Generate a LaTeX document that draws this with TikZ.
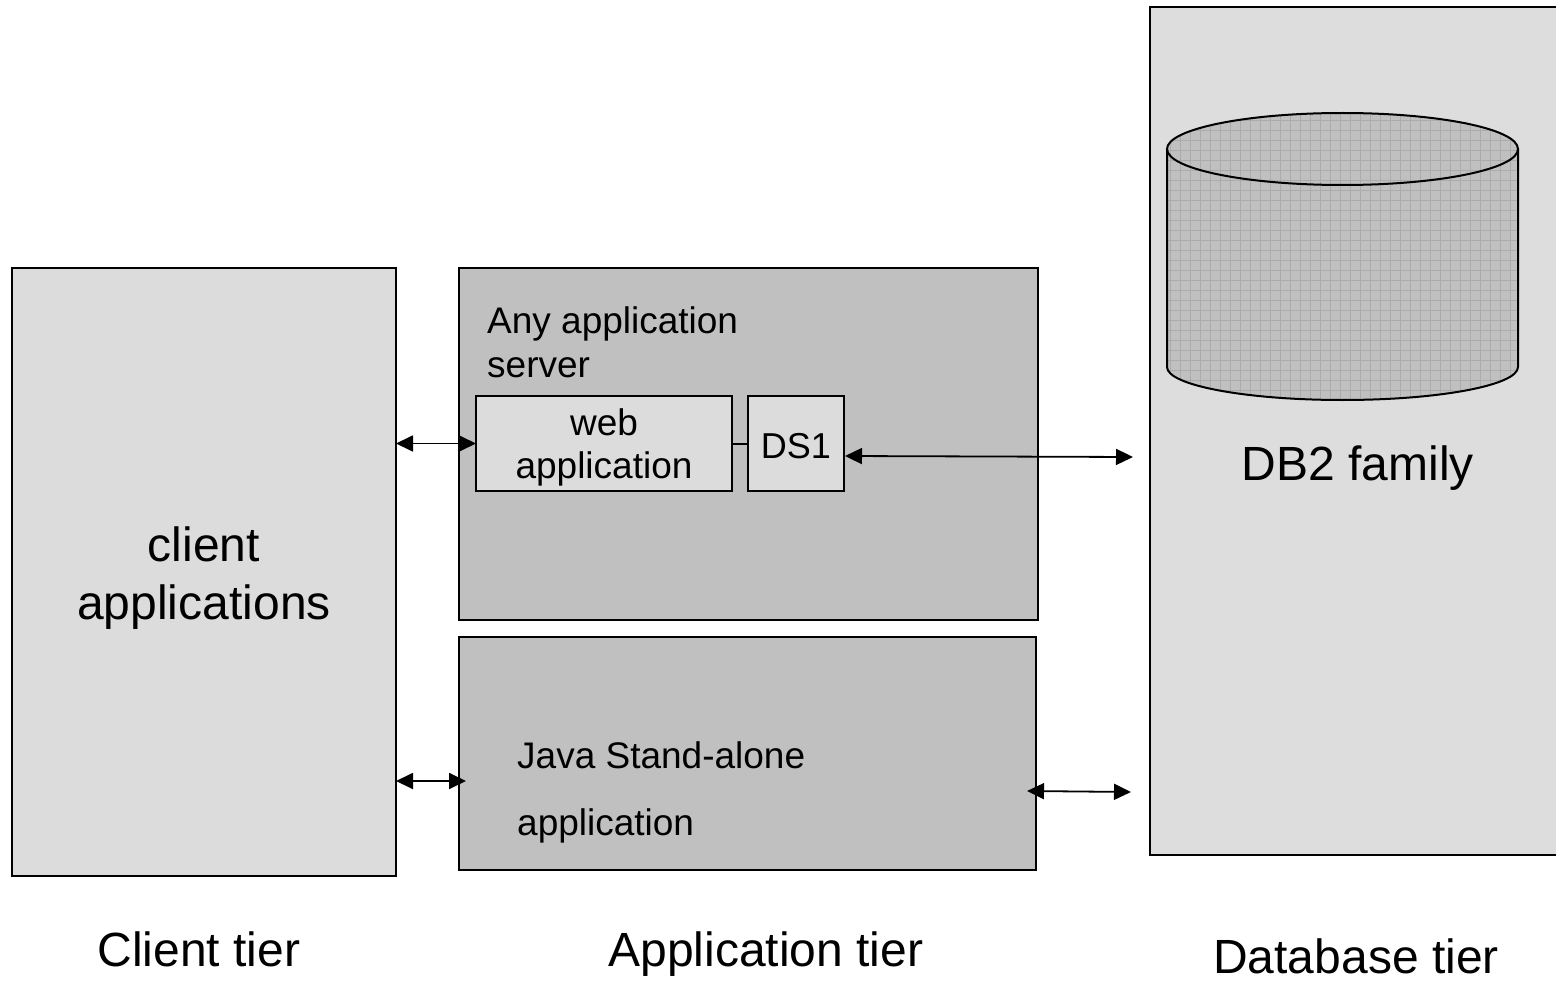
\documentclass[tikz,border=0pt]{standalone}
\usepackage{fontspec}
\setmainfont{Liberation Sans}
\usetikzlibrary{arrows.meta,calc}
\definecolor{lightbox}{HTML}{DCDCDC}
\definecolor{dbbox}{HTML}{DDDDDD}
\definecolor{midbox}{HTML}{C0C0C0}
\definecolor{cylfill}{HTML}{C0C0C0}
\definecolor{cylgrid}{HTML}{ABABAB}
\begin{document}
\begin{tikzpicture}[x=1pt,y=-1pt,
  box/.style={draw=black,line width=2pt,inner sep=0pt,outer sep=0pt,anchor=north west},
  arr/.style={line width=1.8pt,{Triangle[length=17pt,width=16pt]}-{Triangle[length=17pt,width=16pt]}},
  link/.style={line width=2pt},
  big/.style={font=\fontsize{48}{58}\selectfont,inner sep=0pt},
  mid/.style={font=\fontsize{37}{44}\selectfont,inner sep=0pt}]
\useasboundingbox (0,0) rectangle (1556,1003);
\fill[white] (0,0) rectangle (1556,1003);
\begin{scope}
\clip (0,0) rectangle (1556,1003);
% database tier box
\node[box,fill=dbbox,minimum width=430pt,minimum height=848pt] (db) at (1150,7) {};
\end{scope}
% cylinder
\begin{scope}
\clip (1167,149) -- (1167,367) arc[start angle=180,end angle=360,x radius=175.5pt,y radius=33pt]
  -- (1518,149) arc[start angle=0,end angle=180,x radius=175.5pt,y radius=36pt] -- cycle;
\fill[cylfill] (1150,100) rectangle (1530,410);
\foreach \gx in {1170,1180,...,1520} \draw[cylgrid,line width=0.8pt] (\gx,100) -- (\gx,410);
\foreach \gy in {110,120,...,400} \draw[cylgrid,line width=0.8pt] (1150,\gy) -- (1530,\gy);
\end{scope}
\draw[line width=2pt] (1167,149) -- (1167,367) arc[start angle=180,end angle=360,x radius=175.5pt,y radius=33pt] -- (1518,149);
\draw[line width=2pt] (1342.5,149) ellipse[x radius=175.5pt,y radius=36pt];
\node[big,anchor=base] (dbtext) at (1358,480) {DB2 family};
% client box
\node[box,fill=lightbox,minimum width=384pt,minimum height=608pt] (client) at (12,268) {};
\node[big,align=center,anchor=north] (clienttext) at (204,527) {client\\applications};
% application server box
\node[box,fill=midbox,minimum width=579pt,minimum height=352pt] (appsrv) at (459,268) {};
\node[mid,align=left,anchor=north west] (apptext) at (487,306) {Any application\\server};
\node[box,fill=lightbox,minimum width=256pt,minimum height=95pt] (webapp) at (476,396) {};
\node[inner sep=0pt,align=center,font=\fontsize{37}{43}\selectfont] (webtext) at ($(webapp.center)+(0,4)$) {web\\application};
\node[box,fill=lightbox,minimum width=96pt,minimum height=95pt] (ds1) at (748,396) {};
\node[inner sep=0pt,font=\fontsize{36}{42}\selectfont] (ds1text) at ($(ds1.center)+(0,3)$) {DS1};
% java box
\node[box,fill=midbox,minimum width=577pt,minimum height=233pt] (java) at (459,637) {};
\node[inner sep=0pt,font=\fontsize{37}{67}\selectfont,align=left,anchor=north west] (javatext) at (517,741) {Java Stand-alone\\application};
% connectors
\coordinate (dbA) at (1133,457);
\coordinate (jl) at (466,781);
\coordinate (jr1) at (1027,791);
\coordinate (jr2) at (1131,792);
\draw[arr] (client.east |- webapp.west) -- (webapp.west);
\draw[link] (webapp.east) -- (ds1.west);
\draw[arr] ($(ds1.east |- dbA)+(1,-1)$) -- (dbA);
\draw[arr] (client.east |- jl) -- (jl);
\draw[arr] (jr1) -- (jr2);
% tier labels
\node[big,anchor=base] (tier1) at (199,966) {Client tier};
\node[big,anchor=base] (tier2) at (766,966) {Application tier};
\node[big,anchor=base] (tier3) at (1356,973) {Database tier};
\end{tikzpicture}
\end{document}
